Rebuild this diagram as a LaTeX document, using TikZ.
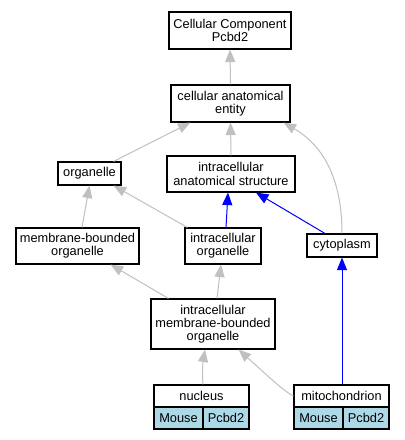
\documentclass[tikz,border=0pt]{standalone}
\usepackage{fontspec}
\setmainfont{Liberation Sans}
\usetikzlibrary{arrows.meta}
\definecolor{edgegray}{HTML}{C0C0C0}
\definecolor{cellblue}{HTML}{ADD8E6}
\begin{document}
\begin{tikzpicture}[x=1pt,y=-1pt,
  box/.style={draw=black,line width=1.1pt,fill=white,inner sep=0pt,align=center,
    font=\fontsize{12.8}{13.3}\selectfont},
  cell/.style={box,fill=cellblue},
  gedge/.style={draw=edgegray,line width=1pt,-{Triangle[length=12.5pt,width=10pt]}},
  bedge/.style={draw=blue,line width=1pt,-{Triangle[length=12.5pt,width=10pt]}}]
\useasboundingbox (0,0) rectangle (405,440);
\fill[white] (0,0) rectangle (405,440);
% nodes
\node[box,minimum width=122,minimum height=37] (cc) at (230,30.5) {Cellular Component\\Pcbd2};
\node[box,minimum width=119,minimum height=37] (cae) at (230.5,103.5) {cellular anatomical\\entity};
\node[box,minimum width=63,minimum height=23] (org) at (89.5,173.5) {organelle};
\node[box,minimum width=128,minimum height=36] (ias) at (231,174) {intracellular\\anatomical structure};
\node[box,minimum width=123,minimum height=36] (mbo) at (77.5,246) {membrane-bounded\\organelle};
\node[box,minimum width=76,minimum height=36] (io) at (223,246) {intracellular\\organelle};
\node[box,minimum width=70,minimum height=23] (cyto) at (342,245.5) {cytoplasm};
\node[box,minimum width=124,minimum height=50] (imbo) at (213,324) {intracellular\\membrane-bounded\\organelle};
\node[box,minimum width=95,minimum height=22] (nuc) at (201.5,396) {nucleus};
\node[cell,minimum width=49,minimum height=22] (nucm) at (178.5,418) {Mouse};
\node[cell,minimum width=46,minimum height=22] (nucp) at (226,418) {Pcbd2};
\node[box,minimum width=95,minimum height=22] (mito) at (341.5,396) {mitochondrion};
\node[cell,minimum width=49,minimum height=22] (mitom) at (318.5,418) {Mouse};
\node[cell,minimum width=46,minimum height=22] (mitop) at (366,418) {Pcbd2};
% edges
\draw[gedge] (cae.north) -- (cc.south);
\draw[gedge] ([xshift=-8]org.north east) -- ([xshift=20]cae.south west);
\draw[gedge] (ias.north) -- (cae.south);
\draw[gedge] (cyto.north) .. controls (342,180) and (324,146) .. ([xshift=-7]cae.south east);
\draw[gedge] ([xshift=4.5]mbo.north) -- (org.south);
\draw[gedge] ([xshift=3]io.north west) -- ([xshift=-8]org.south east);
\draw[bedge] ([xshift=3]io.north) -- ([xshift=-3]ias.south);
\draw[bedge] ([xshift=-17]cyto.north) -- ([xshift=25]ias.south);
\draw[bedge] ([xshift=0.5]mito.north) -- (cyto.south);
\draw[gedge] ([xshift=18]imbo.north west) -- ([xshift=-29]mbo.south east);
\draw[gedge] ([xshift=4]imbo.north) -- ([xshift=-2]io.south);
\draw[gedge] ([xshift=1.5]nuc.north) .. controls (202,372) and (203,362) .. ([xshift=-8]imbo.south);
\draw[gedge] (mito.west) .. controls (285,392) and (270,378) .. ([xshift=-37]imbo.south east);
\end{tikzpicture}
\end{document}
